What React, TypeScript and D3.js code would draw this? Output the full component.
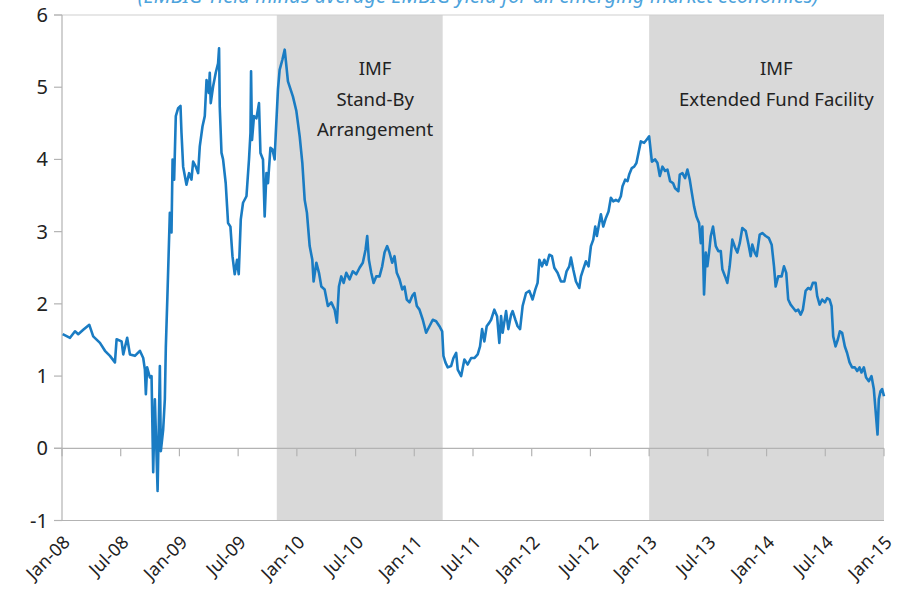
import React from 'react';
import * as d3 from 'd3';

// months since Jan-2008 and the spread (percentage points)
const months = [
  0.07, 0.82, 1.33, 1.66, 2.17, 2.79, 3.19, 3.88, 4.39, 4.9, 5.41, 5.58, 6.09, 6.26, 6.66, 6.94,
  7.45, 7.96, 8.3, 8.47, 8.57, 8.7, 8.98, 9.15, 9.32, 9.49, 9.77, 10.0, 10.1, 10.34, 10.51, 10.61,
  10.77, 11.02, 11.19, 11.3, 11.46, 11.63, 11.87, 12.11, 12.21, 12.38, 12.72, 12.99, 13.23, 13.4,
  13.67, 13.91, 14.08, 14.36, 14.59, 14.77, 15.0, 15.1, 15.2, 15.44, 15.71, 15.95, 16.05, 16.12,
  16.3, 16.46, 16.73, 16.87, 16.97, 17.21, 17.42, 17.65, 17.89, 18.06, 18.27, 18.5, 18.85, 19.11,
  19.26, 19.32, 19.42, 19.62, 19.87, 20.13, 20.28, 20.54, 20.71, 20.89, 21.05, 21.3, 21.5, 21.73,
  21.84, 22.07, 22.24, 22.52, 22.76, 23.09, 23.6, 23.95, 24.29, 24.56, 24.8, 25.03, 25.31, 25.58,
  25.71, 25.99, 26.26, 26.5, 26.84, 27.17, 27.52, 27.86, 28.09, 28.3, 28.54, 28.78, 29.05, 29.39,
  29.72, 30.07, 30.41, 30.74, 31.02, 31.19, 31.36, 31.6, 31.84, 32.11, 32.45, 32.72, 32.96, 33.23,
  33.47, 33.74, 33.98, 34.21, 34.49, 34.77, 35.0, 35.23, 35.51, 35.79, 36.02, 36.26, 36.53, 36.87,
  37.21, 37.55, 37.89, 38.23, 38.57, 38.85, 38.98, 39.18, 39.42, 39.77, 40.0, 40.28, 40.44, 40.79,
  41.12, 41.46, 41.81, 42.14, 42.48, 42.72, 42.93, 43.16, 43.4, 43.67, 43.85, 44.18, 44.46, 44.69,
  44.87, 45.03, 45.38, 45.61, 45.89, 46.05, 46.33, 46.56, 46.81, 47.07, 47.42, 47.76, 48.09, 48.37,
  48.6, 48.78, 49.05, 49.29, 49.52, 49.8, 50.07, 50.31, 50.64, 50.99, 51.33, 51.56, 51.84, 52.01,
  52.24, 52.52, 52.86, 53.03, 53.27, 53.54, 53.81, 54.05, 54.29, 54.49, 54.66, 54.9, 55.07, 55.31,
  55.58, 55.85, 56.09, 56.33, 56.6, 56.87, 57.11, 57.28, 57.55, 57.79, 57.96, 58.23, 58.47, 58.7,
  58.91, 59.15, 59.49, 59.72, 60.0, 60.28, 60.61, 60.85, 61.09, 61.36, 61.63, 61.87, 62.14, 62.45,
  62.65, 62.99, 63.13, 63.4, 63.67, 63.91, 64.15, 64.36, 64.59, 64.83, 65.1, 65.28, 65.44, 65.61,
  65.79, 65.95, 66.12, 66.3, 66.53, 66.81, 67.07, 67.32, 67.48, 67.76, 67.99, 68.23, 68.5, 68.78,
  69.01, 69.26, 69.52, 69.87, 70.13, 70.38, 70.54, 70.79, 70.99, 71.3, 71.56, 71.91, 72.24, 72.52,
  72.76, 72.93, 73.19, 73.54, 73.78, 74.01, 74.21, 74.46, 74.69, 74.97, 75.23, 75.48, 75.71, 75.99,
  76.26, 76.5, 76.73, 77.01, 77.17, 77.42, 77.68, 77.96, 78.19, 78.44, 78.64, 78.81, 79.05, 79.29,
  79.49, 79.72, 80.0, 80.23, 80.48, 80.74, 81.02, 81.26, 81.5, 81.7, 81.94, 82.17, 82.45, 82.72,
  82.96, 83.13, 83.34, 83.47, 83.64, 83.81, 84.0,
];

const spread = [
  1.58, 1.53, 1.62, 1.58, 1.64, 1.71, 1.55, 1.46, 1.35, 1.28, 1.19, 1.51, 1.48, 1.3, 1.53, 1.3,
  1.28, 1.35, 1.25, 1.09, 0.75, 1.12, 0.98, 1.0, -0.33, 0.68, -0.59, 1.14, -0.04, 0.26, 0.68, 1.4,
  2.1, 3.26, 2.99, 4.0, 3.72, 4.6, 4.71, 4.74, 4.37, 3.9, 3.65, 3.81, 3.72, 3.97,
  3.9, 3.81, 4.18, 4.46, 4.6, 5.1, 4.92, 5.2, 4.78, 5.01, 5.2, 5.33, 5.54, 4.73,
  4.09, 4.0, 3.67, 3.35, 3.12, 3.07, 2.66, 2.41, 2.61, 2.41, 3.17, 3.4, 3.49, 4.0,
  4.37, 5.22, 4.27, 4.6, 4.57, 4.78, 4.09, 4.0, 3.21, 3.81, 3.67, 4.16, 4.14, 4.0,
  4.34, 4.97, 5.24, 5.38, 5.52, 5.08, 4.87, 4.67, 4.32, 3.95, 3.44, 3.26, 2.8, 2.61,
  2.31, 2.57, 2.43, 2.24, 2.2, 1.97, 2.02, 1.92, 1.74, 2.24, 2.38, 2.29, 2.43, 2.34,
  2.45, 2.41, 2.5, 2.57, 2.75, 2.94, 2.61, 2.43, 2.29, 2.38, 2.38, 2.52, 2.71, 2.8,
  2.71, 2.57, 2.66, 2.43, 2.34, 2.2, 2.24, 2.06, 2.02, 2.11, 2.15, 1.97, 1.92, 1.78,
  1.6, 1.69, 1.78, 1.76, 1.69, 1.62, 1.28, 1.19, 1.12, 1.14, 1.25, 1.32, 1.09, 1.0,
  1.23, 1.16, 1.25, 1.25, 1.3, 1.41, 1.65, 1.48, 1.69, 1.74, 1.78, 1.92, 1.83, 1.46,
  1.83, 1.6, 1.9, 1.65, 1.85, 1.9, 1.78, 1.69, 1.65, 1.97, 2.15, 2.18, 2.06, 2.2,
  2.29, 2.61, 2.52, 2.61, 2.54, 2.68, 2.66, 2.5, 2.43, 2.31, 2.31, 2.45, 2.52, 2.64,
  2.48, 2.31, 2.22, 2.38, 2.48, 2.59, 2.52, 2.8, 2.89, 3.07, 2.94, 3.12, 3.24, 3.07,
  3.19, 3.28, 3.47, 3.42, 3.44, 3.42, 3.49, 3.63, 3.72, 3.7, 3.79, 3.88, 3.9, 3.95,
  4.09, 4.25, 4.23, 4.27, 4.32, 3.97, 4.0, 3.95, 3.77, 3.9, 3.84, 3.86, 3.7, 3.67,
  3.6, 3.56, 3.79, 3.81, 3.74, 3.86, 3.72, 3.54, 3.35, 3.21, 3.12, 2.84, 3.07, 2.13,
  2.71, 2.52, 2.71, 2.94, 3.07, 2.8, 2.73, 2.73, 2.48, 2.38, 2.29, 2.52, 2.89, 2.78,
  2.71, 2.84, 3.05, 3.01, 2.84, 2.66, 2.82, 2.71, 2.66, 2.96, 2.98, 2.94, 2.91, 2.82,
  2.52, 2.24, 2.38, 2.38, 2.52, 2.43, 2.06, 1.99, 1.95, 1.9, 1.92, 1.85, 1.92, 2.18,
  2.22, 2.2, 2.29, 2.29, 2.11, 1.99, 2.06, 2.02, 2.08, 2.06, 1.97, 1.55, 1.41, 1.51,
  1.62, 1.6, 1.41, 1.32, 1.19, 1.12, 1.12, 1.07, 1.12, 1.05, 1.12, 0.98, 0.93, 1.0,
  0.82, 0.54, 0.19, 0.68, 0.79, 0.82, 0.72,
];

const tickMonths = [0, 6, 12, 18, 24, 30, 36, 42, 48, 54, 60, 66, 72, 78, 84];
const tickLabels = [
  'Jan-08', 'Jul-08', 'Jan-09', 'Jul-09', 'Jan-10', 'Jul-10', 'Jan-11', 'Jul-11',
  'Jan-12', 'Jul-12', 'Jan-13', 'Jul-13', 'Jan-14', 'Jul-14', 'Jan-15',
];
const yTicks = [-1, 0, 1, 2, 3, 4, 5, 6];

// IMF programme periods (months since Jan-2008)
const programStart = [21.95, 60];
const programEnd = [38.9, 84];
const programLabels = [['IMF', 'Stand-By', 'Arrangement'], ['IMF', 'Extended Fund Facility']];
const labelMonth = [32, 73];

const title = '(EMBIG Yield minus average EMBIG yield for all emerging market economies)';

const W = 903;
const H = 609;
const m = { left: 62, right: 19, top: 15, bottom: 88.5 };
const font = '"Noto Sans", "Open Sans", sans-serif';

export default function App() {
  const x = d3.scaleLinear().domain([0, 84]).range([m.left, W - m.right]);
  const y = d3.scaleLinear().domain([-1, 6]).range([H - m.bottom, m.top]);

  const points: [number, number][] = months.map((mo, i) => [mo, spread[i]]);
  const path = d3.line<[number, number]>()
    .x(d => x(d[0]))
    .y(d => y(d[1]))(points);

  const axisColor = '#b3b3b3';

  return (
    <svg width={W} height={H} style={{ position: 'absolute', left: 0, top: 0, background: '#fff' }}>
      <text x={478} y={3} textAnchor="middle" fontFamily={font} fontStyle="italic"
        fontSize={20} fill="#4da3dc">{title}</text>

      {programStart.map((s, i) => (
        <rect key={i} x={x(s)} y={y(6)} width={x(programEnd[i]) - x(s)} height={y(-1) - y(6)}
          fill="#d9d9d9" />
      ))}

      {/* frame lines at top and bottom, zero line */}
      <line x1={m.left - 8} x2={x(84)} y1={y(6)} y2={y(6)} stroke="#cfcfcf" strokeWidth={1.2} />
      <line x1={m.left - 8} x2={x(84)} y1={y(-1)} y2={y(-1)} stroke={axisColor} strokeWidth={1.2} />
      <line x1={m.left - 8} x2={x(84)} y1={y(0)} y2={y(0)} stroke={axisColor} strokeWidth={1.2} />
      <line x1={m.left} x2={m.left} y1={y(6)} y2={y(-1)} stroke={axisColor} strokeWidth={1.2} />

      {yTicks.map(t => (
        <g key={t}>
          <line x1={m.left - 8} x2={m.left} y1={y(t)} y2={y(t)} stroke={axisColor} strokeWidth={1.2} />
          <text x={m.left - 14} y={y(t)} dy="0.35em" textAnchor="end" fontFamily={font}
            fontSize={20} fill="#222">{t}</text>
        </g>
      ))}

      {tickMonths.map((t, i) => (
        <g key={t}>
          <line x1={x(t)} x2={x(t)} y1={y(0)} y2={y(0) + 8} stroke={axisColor} strokeWidth={1.2} />
          <text transform={`translate(${x(t) + 9},${y(-1) + 23}) rotate(-45)`} textAnchor="end"
            fontFamily={font} fontSize={18} fill="#222">{tickLabels[i]}</text>
        </g>
      ))}

      {programLabels.map((lines, i) => (
        <text key={i} x={x(labelMonth[i])} y={y(6) + 60} textAnchor="middle" fontFamily={font}
          fontSize={18.5} fill="#222">
          {lines.map((l, j) => (
            <tspan key={j} x={x(labelMonth[i])} dy={j === 0 ? 0 : 30.5}>{l}</tspan>
          ))}
        </text>
      ))}

      <path d={path ?? ''} fill="none" stroke="#1a7cc3" strokeWidth={2.6} strokeLinejoin="round" />
    </svg>
  );
}
